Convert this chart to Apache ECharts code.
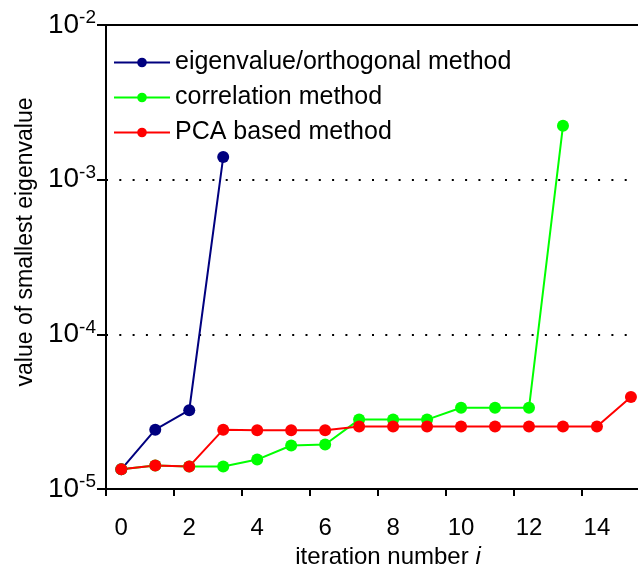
<!DOCTYPE html>
<html>
<head>
<meta charset="utf-8">
<script src="https://cdn.jsdelivr.net/npm/echarts@6/dist/echarts.min.js"></script>
<style>
  html, body { margin: 0; padding: 0; background: #fff; }
  #chart { width: 638px; height: 567px; }
</style>
</head>
<body>
<div id="chart"></div>
<script>
// values (x = iteration number)
var eigenOrthY = [1.34e-5, 2.42e-5, 3.23e-5, 1.40e-3]
var correlationY = [1.34e-5, 1.42e-5, 1.40e-5, 1.40e-5, 1.55e-5, 1.91e-5, 1.94e-5,
  2.81e-5, 2.81e-5, 2.81e-5, 3.35e-5, 3.35e-5, 3.35e-5, 2.23e-3]
var pcaY = [1.34e-5, 1.42e-5, 1.40e-5, 2.42e-5, 2.40e-5, 2.40e-5, 2.40e-5,
  2.54e-5, 2.54e-5, 2.54e-5, 2.54e-5, 2.54e-5, 2.54e-5, 2.54e-5, 2.54e-5, 3.94e-5]
var seriesNames = ['eigenvalue/orthogonal method', 'correlation method', 'PCA based method']
var seriesColors = ['#00007f', '#00ff00', '#ff0000']
var xLabelValues = [0, 2, 4, 6, 8, 10, 12, 14]
var xTickValues = [-0.45, 1.55, 3.55, 5.55, 7.55, 9.55, 11.55, 13.55, 15.55]

function toPoints(arr) {
  return arr.map(function(v, i) { return [i, v] })
}

var chart = echarts.init(document.getElementById('chart'))

var allY = [eigenOrthY, correlationY, pcaY]
var series = allY.map(function(arr, k) {
  return {
    name: seriesNames[k],
    type: 'line',
    data: toPoints(arr),
    symbol: 'circle',
    symbolSize: 12,
    lineStyle: { color: seriesColors[k], width: 2 },
    itemStyle: { color: seriesColors[k] },
    emphasis: { disabled: true }
  }
})

chart.setOption({
  animation: false,
  textStyle: { fontFamily: 'Liberation Sans, Arial, sans-serif', color: '#000' },
  grid: {
    left: 106,
    top: 25,
    width: 564,
    height: 464,
    outerBoundsMode: 'none',
    containLabel: false,
    show: true,
    borderColor: '#000',
    borderWidth: 2
  },
  legend: {
    orient: 'vertical',
    left: 108,
    top: 45,
    itemWidth: 56,
    itemHeight: 12,
    itemGap: 10,
    textStyle: { fontSize: 25, color: '#000', lineHeight: 25 },
    data: seriesNames
  },
  xAxis: {
    type: 'value',
    min: -0.45,
    max: 16.15,
    name: 'iteration number {i|i}',
    nameLocation: 'middle',
    nameGap: 55,
    nameTextStyle: {
      fontSize: 24,
      color: '#000',
      rich: { i: { fontSize: 24, fontStyle: 'italic', color: '#000' } }
    },
    axisLine: { lineStyle: { color: '#000', width: 2 } },
    axisTick: { customValues: xTickValues, length: 7, lineStyle: { color: '#000', width: 2 } },
    axisLabel: { customValues: xLabelValues, fontSize: 24, color: '#000', margin: 27 },
    splitLine: { show: false }
  },
  yAxis: {
    type: 'log',
    logBase: 10,
    min: 1e-5,
    max: 1e-2,
    name: 'value of smallest eigenvalue',
    nameLocation: 'middle',
    nameGap: 66,
    nameTextStyle: { fontSize: 23, color: '#000', padding: [0, 0, 0, 30] },
    axisLine: { onZero: false, lineStyle: { color: '#000', width: 2 } },
    axisTick: { length: 9, lineStyle: { color: '#000', width: 2 } },
    axisLabel: {
      margin: 10,
      formatter: function(v) {
        var e = Math.round(Math.log(v) / Math.LN10)
        return '{b|10}{s|' + e + '}'
      },
      rich: {
        b: { fontSize: 28, color: '#000' },
        s: { fontSize: 19, color: '#000', padding: [0, 0, 14, 0] }
      }
    },
    splitLine: { show: true, lineStyle: { color: '#000', width: 2, type: [2, 11.3] } }
  },
  series: series
})
</script>
</body>
</html>
